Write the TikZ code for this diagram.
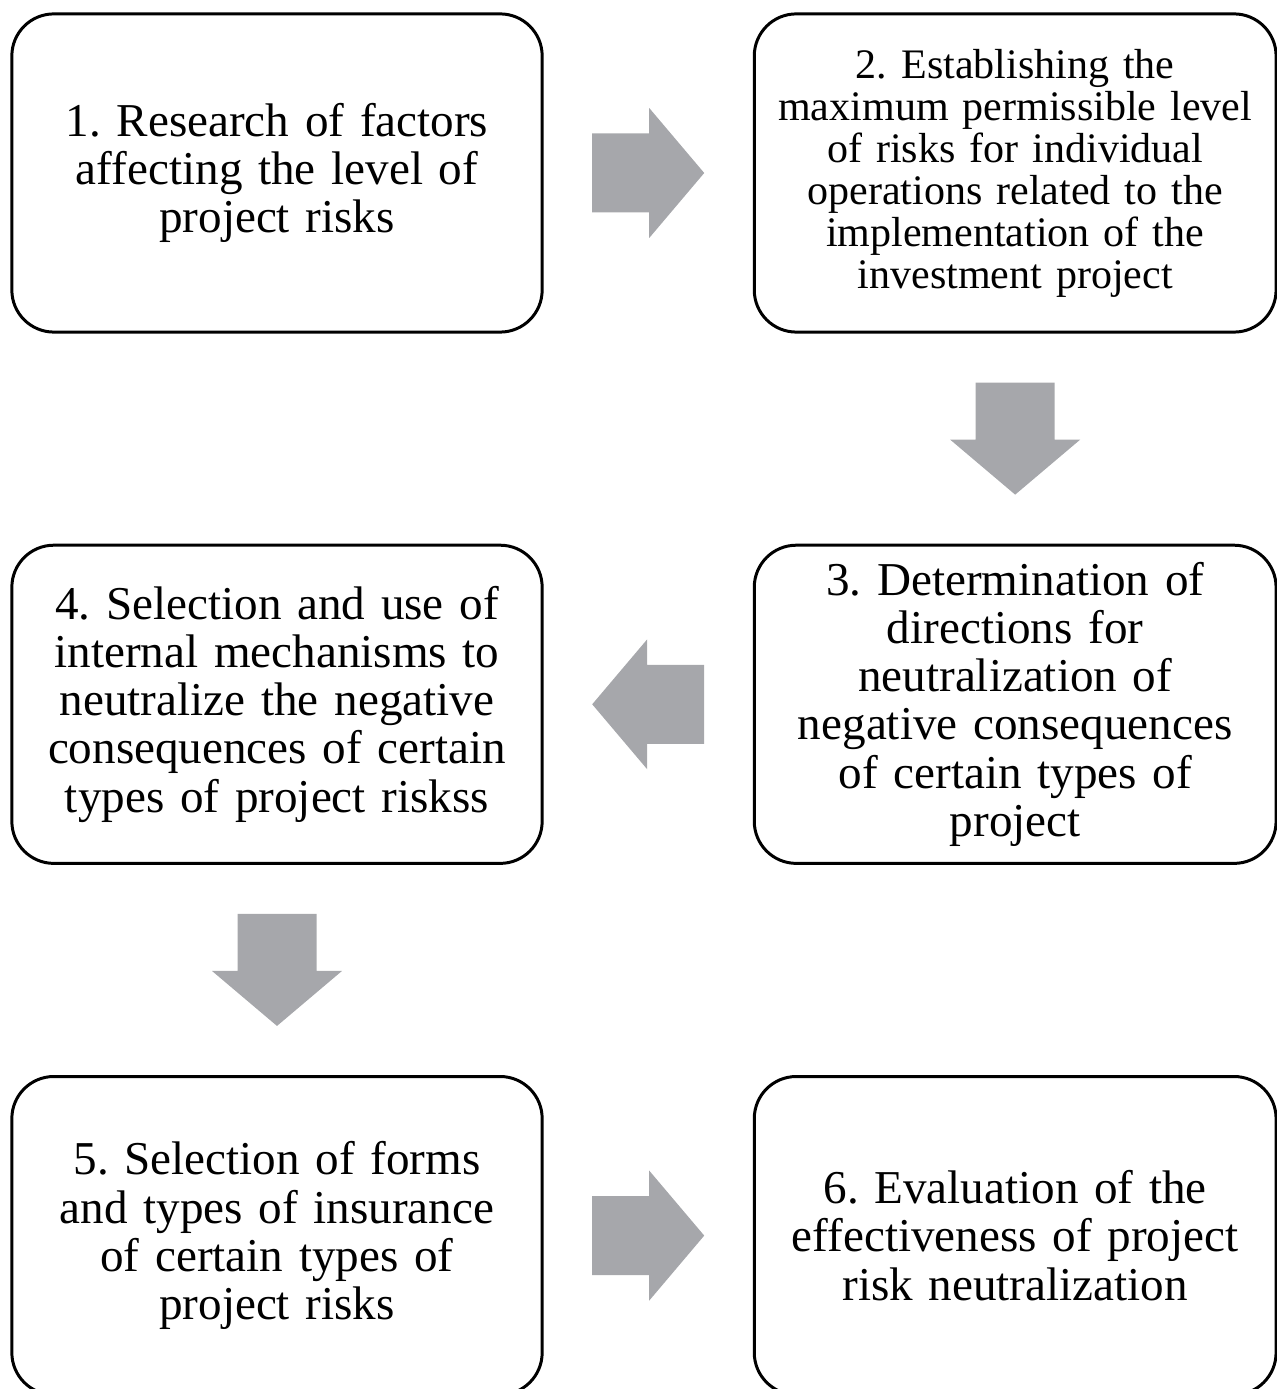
\documentclass[tikz,border=0pt]{standalone}
\usepackage{fontspec}
\setmainfont{Liberation Serif}
\usetikzlibrary{positioning, calc}
\definecolor{arrowgray}{RGB}{166,167,171}
\tikzset{
  stepbox/.style={ draw, line width=0.85pt, rounded corners=0.42cm, minimum width=5.3cm, minimum height=3.18cm, text width=5.1cm, align=center, inner sep=0pt, font=\fontsize{13.4}{13.7}\selectfont\frenchspacing }
}
\tikzset{
  rightbox/.style={ stepbox, minimum width=5.215cm }
}
\tikzset{
  smalltext/.style={ font=\fontsize{11.95}{11.95}\selectfont\frenchspacing }
}
\tikzset{
  blockarrow/.pic={ \fill[arrowgray] (-56,-39.5) -- (1,-39.5) -- (1,-65) -- (56,0) -- (1,65) -- (1,39.5) -- (-56,39.5) -- cycle; }
}

\begin{document}
\begin{tikzpicture}[x=0.01cm, y=-0.01cm]
      \path[use as bounding box, clip] (0,0) rectangle (1277,1389);

      \node[stepbox] (b1) at (277, 173) {1. Research of factors\\ affecting the level of\\ project risks};
      \node[rightbox, smalltext, right=2.09cm of b1] (b2) {2. Establishing the\\ maximum permissible level\\ of risks for individual\\ operations related to the\\ implementation of the\\ investment project};
      \node[rightbox, below=2.10cm of b2] (b3) {3. Determination of\\ directions for\\ neutralization of\\ negative consequences\\ of certain types of\\ project};
      \node[stepbox, left=2.09cm of b3] (b4) {4. Selection and use of\\ internal mechanisms to\\ neutralize the negative\\ consequences of certain\\ types of project riskss};
      \node[stepbox, below=2.10cm of b4] (b5) {5. Selection of forms\\ and types of insurance\\ of certain types of\\ project risks};
      \node[rightbox, right=2.09cm of b5] (b6) {6. Evaluation of the\\ effectiveness of project\\ risk neutralization};

      % block arrows between the steps
      \pic at ($(b1.east)!0.5!(b2.west)$) {blockarrow};
      \pic[rotate=-90] at ($(b2.south)!0.5!(b3.north)$) {blockarrow};
      \pic[rotate=180] at ($(b3.west)!0.5!(b4.east)$) {blockarrow};
      \pic[rotate=-90] at ($(b4.south)!0.5!(b5.north)$) {blockarrow};
      \pic at ($(b5.east)!0.5!(b6.west)$) {blockarrow};
    \end{tikzpicture}
\end{document}
